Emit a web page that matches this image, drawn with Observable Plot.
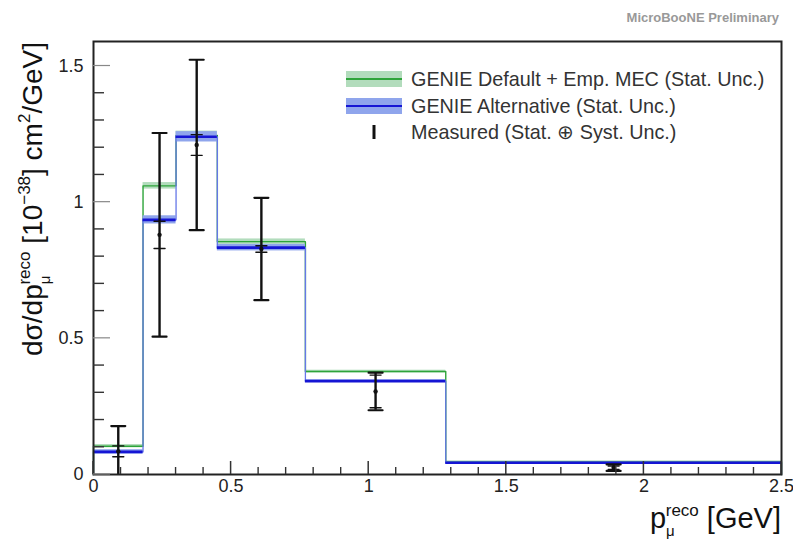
<!DOCTYPE html>
<html>
<head>
<meta charset="utf-8">
<script src="https://cdn.jsdelivr.net/npm/d3@7"></script>
<script src="https://cdn.jsdelivr.net/npm/@observablehq/plot@0.6"></script>
<style>
  body { margin: 0; background: #fff; }
  #chart { width: 793px; height: 540px; }
</style>
</head>
<body>
<div id="chart"></div>
<script>
// Muon momentum bins [GeV]
const binEdges = [0, 0.18, 0.30, 0.45, 0.77, 1.28, 2.50];

// GENIE Default + Empirical MEC prediction and its statistical uncertainty
const genieDefault    = [0.104, 1.060, 1.245, 0.855, 0.378, 0.047];
const genieDefaultErr = [0.006, 0.012, 0.016, 0.010, 0.005, 0.003];

// GENIE Alternative prediction and its statistical uncertainty
const genieAlt    = [0.083, 0.935, 1.240, 0.833, 0.343, 0.043];
const genieAltErr = [0.008, 0.015, 0.019, 0.012, 0.005, 0.003];

// Measured cross section with statistical and total (stat ⊕ syst) errors
const measuredP     = [0.09, 0.24, 0.375, 0.61, 1.025, 1.89];
const measured      = [0.085, 0.880, 1.210, 0.828, 0.305, 0.025];
const measuredStat  = [0.020, 0.050, 0.038, 0.012, 0.060, 0.006];
const measuredTotal = [0.093, 0.374, 0.313, 0.188, 0.069, 0.012];

// Axis ticks
const xMajorTicks = [0, 0.5, 1, 1.5, 2, 2.5];
const yMajorTicks = [0, 0.5, 1, 1.5];
const xMinorTicks = d3.range(0, 26).map(i => i / 10).filter(v => !xMajorTicks.includes(v));
const yMinorTicks = d3.range(0, 16).map(i => i / 10).filter(v => !yMajorTicks.includes(v));

const legendLabels = [
  "GENIE Default + Emp. MEC (Stat. Unc.)",
  "GENIE Alternative (Stat. Unc.)",
  "Measured (Stat. \u2295 Syst. Unc.)"
];

const colors = {
  defLine: "#2ea43a", defBand: "#b2dcbc",
  altLine: "#1515d4", altRiser: "#6677e8", altBand: "#8fa5ec",
  data: "#111"
};

const W = 793, H = 540;
const margin = {left: 93, right: 12, top: 41, bottom: 66};

const bins = genieAlt.map((v, i) => ({
  lo: binEdges[i], hi: binEdges[i + 1],
  def: genieDefault[i], defErr: genieDefaultErr[i],
  alt: v, altErr: genieAltErr[i]
}));

const points = measured.map((v, i) => ({
  p: measuredP[i], v, stat: measuredStat[i], tot: measuredTotal[i]
}));

// Histogram outline: rise from zero, flat across each bin, fall back to zero
function stepOutline(values) {
  const pts = [{x: binEdges[0], y: 0}];
  values.forEach((v, i) => {
    pts.push({x: binEdges[i], y: v});
    pts.push({x: binEdges[i + 1], y: v});
  });
  pts.push({x: binEdges[binEdges.length - 1], y: 0});
  return pts;
}

// Horizontal segment used for error bar caps
const segment = {
  draw(context, l) { context.moveTo(0, 0); context.lineTo(0, -l); }
};
const cap = (len, yOf, width, clip) => Plot.vector(points, {
  x: "p", y: yOf, length: len, rotate: 90, anchor: "middle", shape: segment,
  stroke: colors.data, strokeWidth: width, clip
});

const chart = Plot.plot({
  width: W,
  height: H,
  marginLeft: margin.left,
  marginRight: margin.right,
  marginTop: margin.top,
  marginBottom: margin.bottom,
  x: {domain: [0, 2.5]},
  y: {domain: [0, 1.59]},
  style: {
    fontFamily: "'Liberation Sans', Arial, Helvetica, sans-serif",
    fontSize: "18px",
    color: "#222",
    background: "#fff"
  },
  marks: [
    // GENIE Default
    Plot.rect(bins, {x1: "lo", x2: "hi", y1: d => d.def - d.defErr, y2: d => d.def + d.defErr, fill: colors.defBand}),
    Plot.line(stepOutline(genieDefault), {x: "x", y: "y", stroke: colors.defLine, strokeWidth: 1.4}),
    // GENIE Alternative
    Plot.rect(bins, {x1: "lo", x2: "hi", y1: d => d.alt - d.altErr, y2: d => d.alt + d.altErr, fill: colors.altBand}),
    Plot.line(stepOutline(genieAlt), {x: "x", y: "y", stroke: colors.altRiser, strokeWidth: 1.3}),
    Plot.ruleY(bins, {x1: "lo", x2: "hi", y: "alt", stroke: colors.altLine, strokeWidth: 2.6}),
    // Measured points
    Plot.ruleX(points, {x: "p", y1: d => d.v - d.tot, y2: d => d.v + d.tot, stroke: colors.data, strokeWidth: 2.4, clip: true}),
    cap(14, d => d.v + d.tot, 2.2, false),
    cap(14, d => d.v - d.tot, 2.2, true),
    cap(11, d => d.v + d.stat, 1.4, false),
    cap(11, d => d.v - d.stat, 1.4, false),
    Plot.dot(points, {x: "p", y: "v", r: 2.2, fill: colors.data, stroke: "none"}),
    // Axis labels
    Plot.axisX(xMajorTicks, {tickSize: 0, tickPadding: 5, tickFormat: d => String(d), label: null}),
    Plot.axisY(yMajorTicks, {tickSize: 0, tickPadding: 10, tickFormat: d => String(d), label: null}),
    Plot.frame({stroke: "#222", strokeWidth: 2})
  ]
});

document.getElementById("chart").appendChild(chart);

const svg = d3.select(chart);
const font = "'Liberation Sans', Arial, Helvetica, sans-serif";
const sx = chart.scale("x"), sy = chart.scale("y");
const x0 = margin.left, y0 = H - margin.bottom;

// Inward ticks on the bottom and left edges, placed with the chart's scales
const tickLayer = svg.append("g").attr("fill", "none");
function xTicks(values, len, stroke, width) {
  values.forEach(v => {
    const px = sx.apply(v);
    tickLayer.append("line").attr("x1", px).attr("x2", px).attr("y1", y0).attr("y2", y0 - len)
      .attr("stroke", stroke).attr("stroke-width", width);
  });
}
function yTicks(values, len, stroke, width) {
  values.forEach(v => {
    const py = sy.apply(v);
    tickLayer.append("line").attr("x1", x0).attr("x2", x0 + len).attr("y1", py).attr("y2", py)
      .attr("stroke", stroke).attr("stroke-width", width);
  });
}
xTicks(xMajorTicks, 13, "#333", 1.5);
xTicks(xMinorTicks, 7, "#333", 1.4);
yTicks(yMajorTicks, 17, "#888", 1.2);
yTicks(yMinorTicks, 11, "#333", 1.4);

// Text with super/subscripts: parts are [text, fontSize, dx, dy]
function richText(g, parts) {
  const t = g.append("text").attr("font-family", font).attr("fill", "#111");
  parts.forEach(([s, size, dx, dy]) => {
    t.append("tspan").attr("font-size", size).attr("dx", dx || 0).attr("dy", dy || 0).text(s);
  });
  return t;
}

// y axis title
const yTitle = svg.append("g").attr("transform", "translate(42,42) rotate(-90)");
richText(yTitle, [
  ["d\u03c3/dp", 28],
  ["\u03bc", 15, 0, 8],
  ["reco", 17, -9, -20],
  [" [10", 28, 0, 12],
  ["\u221238", 17, 0, -12],
  ["]", 28, 0, 12],
  [" cm", 28],
  ["2", 17, 0, -12],
  ["/GeV]", 28, 0, 12]
]).attr("text-anchor", "end");

// x axis title
const xTitle = svg.append("g").attr("transform", "translate(781,528)");
richText(xTitle, [
  ["p", 29],
  ["\u03bc", 15, 0, 8],
  ["reco", 17, -9, -20],
  [" [GeV]", 29, 0, 12]
]).attr("text-anchor", "end");

// header
svg.append("text")
  .attr("x", 779).attr("y", 22)
  .attr("text-anchor", "end")
  .attr("font-family", font).attr("font-weight", "bold").attr("font-size", 13)
  .attr("fill", "#999")
  .text("MicroBooNE Preliminary");

// legend
const legend = svg.append("g").attr("font-family", font).attr("text-anchor", "start");
const rows = [79, 106, 132];
[[colors.defBand, colors.defLine], [colors.altBand, colors.altLine]].forEach(([band, line], i) => {
  legend.append("rect").attr("x", 346).attr("y", rows[i] - 8).attr("width", 56).attr("height", 16).attr("fill", band);
  legend.append("line").attr("x1", 346).attr("x2", 402).attr("y1", rows[i]).attr("y2", rows[i])
    .attr("stroke", line).attr("stroke-width", 2);
});
legend.append("line").attr("x1", 374).attr("x2", 374).attr("y1", rows[2] - 7).attr("y2", rows[2] + 7)
  .attr("stroke", colors.data).attr("stroke-width", 3);
legendLabels.forEach((s, i) => {
  legend.append("text").attr("x", 411).attr("y", rows[i] + 7)
    .attr("text-anchor", "start")
    .attr("font-size", 19.8).attr("fill", "#333").text(s);
});
</script>
</body>
</html>
